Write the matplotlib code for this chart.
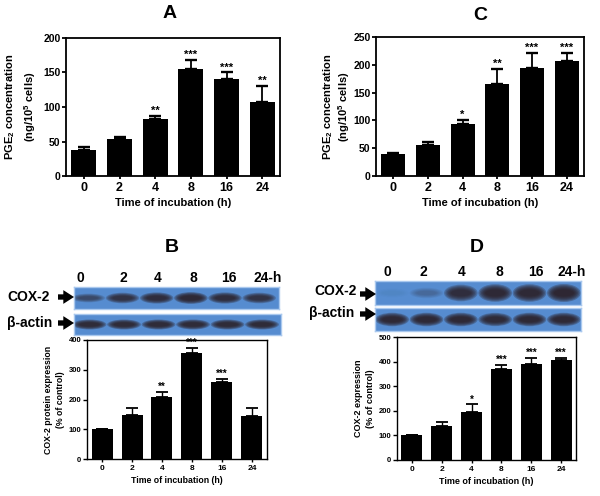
import matplotlib
matplotlib.use("Agg")
import matplotlib.pyplot as plt
from matplotlib.patches import Ellipse, FancyArrowPatch
import numpy as np

plt.rcParams['font.family'] = ['Liberation Sans', 'DejaVu Sans']
plt.rcParams['font.weight'] = 'bold'
plt.rcParams['mathtext.fontset'] = 'custom'
plt.rcParams['mathtext.rm'] = 'Liberation Sans:bold'
plt.rcParams['mathtext.bf'] = 'Liberation Sans:bold'
plt.rcParams['mathtext.default'] = 'bf'

# dados
horas = ['0', '2', '4', '8', '16', '24']
lanes = ['0', '2', '4', '8', '16', '24-h']

# painel A - PGE2
pge_a = [38, 53, 82, 155, 140, 107]
pge_a_err = [4, 4, 5, 13, 10, 24]
stars_a = ['', '', '**', '***', '***', '**']

# painel C - PGE2
pge_c = [40, 56, 94, 165, 194, 206]
pge_c_err = [1, 6, 7, 27, 28, 16]
stars_c = ['', '', '*', '**', '***', '***']

# painel B - COX-2 (% controle)
cox_b = [100, 147, 207, 355, 258, 146]
cox_b_err = [0, 25, 18, 19, 10, 27]
stars_b = ['', '', '**', '***', '***', '']

# painel D - COX-2 (% controle)
cox_d = [100, 139, 197, 370, 390, 406]
cox_d_err = [0, 16, 29, 16, 24, 10]
stars_d = ['', '', '*', '***', '***', '***']

# intensidade das bandas do western blot (0-1)
banda_b_cox = [0.45, 0.75, 0.85, 0.95, 0.85, 0.75]
banda_b_actina = [0.9, 0.9, 0.9, 0.9, 0.9, 0.9]
banda_d_cox = [0.03, 0.18, 0.85, 0.95, 0.95, 1.0]
banda_d_actina = [0.95, 0.95, 0.95, 0.92, 0.95, 0.95]

W, H = 600, 496
fig = plt.figure(figsize=(6, 4.96), dpi=100)


def rect(x0, y0, x1, y1):
    # pixels (topo) -> fracao da figura
    return [x0 / W, 1 - y1 / H, (x1 - x0) / W, (y1 - y0) / H]


def grafico(ax, vals, errs, stars, ymax, ystep, ylabel, fs_tick_x, fs_tick_y,
            fs_lab, fs_star, lw, capsize, labelpad, lsp):
    x = np.arange(len(vals))
    ax.bar(x, vals, width=0.7, color='black', zorder=2)
    baixo = np.zeros(len(errs))
    ax.errorbar(x, vals, yerr=[baixo, errs], fmt='none', ecolor='black',
                elinewidth=lw, capsize=capsize, capthick=lw * 1.3, zorder=1)
    for xi, v, e, s in zip(x, vals, errs, stars):
        if s:
            ax.annotate(s, (xi, v + e), xytext=(0, 0), textcoords='offset points',
                        ha='center', va='bottom', fontsize=fs_star, fontweight='bold')
    ax.set_xlim(-0.5, len(vals) - 0.5)
    ax.set_ylim(0, ymax)
    ax.set_yticks(np.arange(0, ymax + 1, ystep))
    ax.set_xticks(x, horas)
    ax.tick_params(axis='x', labelsize=fs_tick_x, length=2.5, width=lw, pad=2)
    ax.tick_params(axis='y', labelsize=fs_tick_y, length=3, width=lw, pad=1)
    for sp in ax.spines.values():
        sp.set_linewidth(lw)
    ax.set_xlabel('Time of incubation (h)', fontsize=fs_lab, fontweight='bold', labelpad=3)
    ax.set_ylabel(ylabel, fontsize=fs_lab, fontweight='bold', labelpad=labelpad, linespacing=lsp)


ax_a = fig.add_axes(rect(66, 38, 280, 176))
grafico(ax_a, pge_a, pge_a_err, stars_a, 200, 50,
        'PGE$_2$ concentration\n(ng/10$^5$ cells)', 9, 7.5, 8, 8, 1.3, 4.5, 4, 1.45)

ax_c = fig.add_axes(rect(376, 37, 584, 176))
grafico(ax_c, pge_c, pge_c_err, stars_c, 250, 50,
        'PGE$_2$ concentration\n(ng/10$^5$ cells)', 9, 7.5, 8, 8, 1.3, 4.5, 1, 1.1)

ax_b = fig.add_axes(rect(87, 340, 267, 459))
grafico(ax_b, cox_b, cox_b_err, stars_b, 400, 100,
        'COX-2 protein expression\n(% of control)', 6, 5.5, 6.3, 7, 1.0, 4, 3, 1.3)

ax_d = fig.add_axes(rect(397, 337, 576, 460))
grafico(ax_d, cox_d, cox_d_err, stars_d, 500, 100,
        'COX-2 expression\n(% of control)', 6, 5.5, 6.5, 7, 1.0, 4, 3, 1.3)


def blot(box, intens, altura, offset):
    ax = fig.add_axes(rect(*box))
    ax.set_facecolor('#568cd0')
    ax.set_xlim(0, len(intens))
    ax.set_ylim(0, 1)
    ax.set_xticks([])
    ax.set_yticks([])
    for sp in ax.spines.values():
        sp.set_color('#a9c8ee')
        sp.set_linewidth(1)
    for i, a in enumerate(intens):
        h = altura * (0.5 + 0.5 * a)
        for k in range(6):
            f = 1 - 0.08 * k
            ax.add_patch(Ellipse((i + offset, 0.5), 0.98 * f, h * (1 - 0.12 * k),
                                 color='#2a1c20', alpha=min(1, a * 0.3), lw=0))
    return ax


blot((74, 287, 279, 309), banda_b_cox, 0.55, 0.42)
blot((74, 314, 281, 335), banda_b_actina, 0.5, 0.45)
blot((375, 281, 581, 305), banda_d_cox, 0.75, 0.5)
blot((375, 308, 581, 331), banda_d_actina, 0.6, 0.5)


def texto(x, y, s, **kw):
    fig.text(x / W, 1 - y / H, s, fontweight='bold', **kw)


def seta(x0, x1, y):
    fig.add_artist(FancyArrowPatch(
        (x0 / W, 1 - y / H), (x1 / W, 1 - y / H), transform=fig.transFigure,
        arrowstyle='simple,head_length=0.7,head_width=0.9,tail_width=0.35',
        mutation_scale=11, lw=0, color='black', shrinkA=0, shrinkB=0))


# titulos
texto(170, 14, 'A', fontsize=14, ha='center', va='center')
texto(480, 15, 'C', fontsize=14, ha='center', va='center')
texto(172, 247, 'B', fontsize=14, ha='center', va='center')
texto(477, 247, 'D', fontsize=14, ha='center', va='center')

# rotulos das canaletas
pos_b = [80, 123, 158, 193, 229, 268]
pos_d = [387, 423, 462, 499, 536, 572]
for lab, xb, xd in zip(lanes, pos_b, pos_d):
    texto(xb, 278, lab, fontsize=10, ha='center', va='center')
    texto(xd, 272, lab, fontsize=10, ha='center', va='center')

texto(7, 297, 'COX-2', fontsize=10, ha='left', va='center')
texto(7, 323, 'β-actin', fontsize=10, ha='left', va='center')
seta(58, 74, 297)
seta(58, 74, 323)

texto(314, 291, 'COX-2', fontsize=10, ha='left', va='center')
texto(309, 313, 'β-actin', fontsize=10, ha='left', va='center')
seta(360, 376, 294)
seta(360, 376, 314)

fig.savefig('out.png', dpi=100)
